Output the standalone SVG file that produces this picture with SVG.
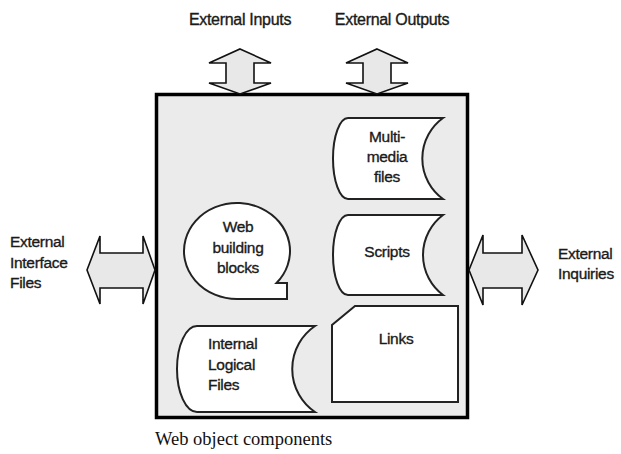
<svg xmlns="http://www.w3.org/2000/svg" width="621" height="454" viewBox="0 0 621 454">
<style>
.lbl{font-family:"Liberation Sans",Arial,sans-serif;font-size:15.5px;fill:#1a1a1a;stroke:#1a1a1a;stroke-width:0.35;letter-spacing:-0.3px}
.top{font-size:16px}
.mid{text-anchor:middle}
.shape{fill:#fff;stroke:#222;stroke-width:2}
.arrow{fill:#e8e8e8;stroke:#111;stroke-width:1.6;stroke-linejoin:miter}
</style>
<rect width="621" height="454" fill="#fff"/>
<g id="system">
<rect x="156.5" y="94.5" width="311" height="323" fill="#ebebeb" stroke="#000" stroke-width="3.5"/>
</g>
<g id="connectors">
<polygon class="arrow" points="240,49 271,63 254,63 254,83 271,83 240,94 209,83 226,83 226,63 209,63"/>
<polygon class="arrow" points="377,49 408,63 391,63 391,83 408,83 377,94 346,83 363,83 363,63 346,63"/>
<polygon class="arrow" points="87,270 100,236 100,253 143,253 143,236 155,270 143,304 143,288 100,288 100,304"/>
<polygon class="arrow" points="469,270 483,235 483,253 522,253 522,235 538,270 522,305 522,288 483,288 483,305"/>
</g>
<g id="external-inputs"><text class="lbl top mid" x="240" y="25">External Inputs</text></g>
<g id="external-outputs"><text class="lbl top mid" x="392" y="25">External Outputs</text></g>
<g id="external-interface-files">
<text class="lbl" x="10" y="247">External</text>
<text class="lbl" x="10" y="268">Interface</text>
<text class="lbl" x="10" y="288">Files</text>
</g>
<g id="external-inquiries">
<text class="lbl" x="558" y="259">External</text>
<text class="lbl" x="558" y="279">Inquiries</text>
</g>
<g id="multimedia-files">
<path class="shape" d="M348,118 H443 A50,50 0 0 0 443,199 H348 A15,40.5 0 0 1 348,118 Z"/>
<text class="lbl mid" x="387" y="142">Multi-</text>
<text class="lbl mid" x="387" y="162">media</text>
<text class="lbl mid" x="387" y="182">files</text>
</g>
<g id="scripts">
<path class="shape" d="M348,215 H443 A50,50 0 0 0 443,295 H348 A15,40 0 0 1 348,215 Z"/>
<text class="lbl mid" x="387" y="257">Scripts</text>
</g>
<g id="links">
<path class="shape" d="M355,306 H458 V402 H332 V325 Z"/>
<text class="lbl mid" x="396" y="344">Links</text>
</g>
<g id="web-building-blocks">
<path class="shape" d="M276.5,283 H287 V299 H237 A53,48 0 1 1 276.5,283 Z"/>
<text class="lbl mid" x="238" y="232">Web</text>
<text class="lbl mid" x="238" y="253">building</text>
<text class="lbl mid" x="238" y="273">blocks</text>
</g>
<g id="internal-logical-files">
<path class="shape" d="M197,326 H315 A52,52 0 0 0 315,412 H197 A20,43 0 0 1 197,326 Z"/>
<text class="lbl" x="208" y="349">Internal</text>
<text class="lbl" x="208" y="370">Logical</text>
<text class="lbl" x="208" y="390">Files</text>
</g>
<g id="caption">
<text x="155" y="445" style="font-family:'Liberation Serif','Times New Roman',serif;font-size:18.5px;fill:#111">Web object components</text>
</g>
</svg>
